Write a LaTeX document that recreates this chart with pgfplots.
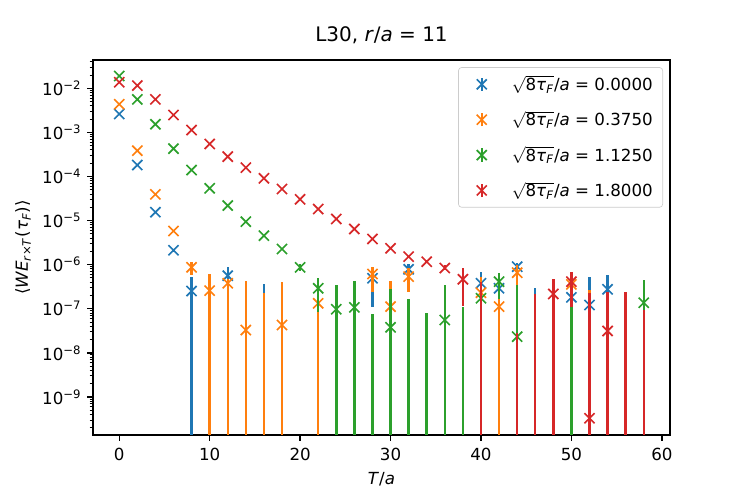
\documentclass[border=0pt]{standalone}
\usepackage{fontspec}
\setmainfont{DejaVu Sans}
\usepackage{pgfplots}
\pgfplotsset{compat=1.18}
\usepackage{pgfplotstable}
\definecolor{c0}{HTML}{1F77B4}
\definecolor{c1}{HTML}{FF7F0E}
\definecolor{c2}{HTML}{2CA02C}
\definecolor{c3}{HTML}{D62728}

% marked points: x, value, upper end, lower end of the error bar
\pgfplotstableread{
x y hi lo
0 2.61e-3 2.65e-3 2.57e-3
2 1.82e-4 1.85e-4 1.79e-4
4 1.55e-5 1.58e-5 1.52e-5
6 2.12e-6 2.30e-6 1.95e-6
8 2.53e-7 5.30e-7 1e-12
12 5.64e-7 9.00e-7 2.20e-7
28 4.92e-7 8.70e-7 1.12e-7
32 7.87e-7 1.04e-6 5.40e-7
40 3.79e-7 6.90e-7 7.00e-8
42 2.92e-7 4.40e-7 1.50e-7
44 9.00e-7 1.11e-6 6.90e-7
50 1.82e-7 3.50e-7 1.50e-8
52 1.22e-7 5.17e-7 1e-12
54 2.77e-7 5.84e-7 1e-12
}\blueM
% points below zero: only the upper part of the error bar is seen
\pgfplotstableread{
x y hi lo
16 1e-13 3.60e-7 1e-13
46 1e-13 2.92e-7 1e-13
}\blueB

\pgfplotstableread{
x y hi lo
0 4.34e-3 4.40e-3 4.28e-3
2 3.85e-4 3.90e-4 3.80e-4
4 3.94e-5 4.00e-5 3.88e-5
6 5.80e-6 6.10e-6 5.50e-6
8 8.73e-7 1.17e-6 5.70e-7
10 2.58e-7 6.15e-7 1e-12
12 3.79e-7 4.67e-7 1e-12
14 3.30e-8 4.35e-7 1e-12
18 4.28e-8 4.12e-7 1e-12
22 1.33e-7 3.00e-7 1e-12
28 6.15e-7 9.00e-7 2.44e-7
30 1.12e-7 4.27e-7 1e-12
32 5.35e-7 8.25e-7 2.44e-7
40 2.32e-7 5.17e-7 1e-12
42 1.12e-7 2.30e-7 1e-12
44 6.58e-7 9.70e-7 3.47e-7
50 3.58e-7 4.50e-7 2.60e-7
}\orangeM
\pgfplotstableread{
x y hi lo
16 1e-13 2.24e-7 1e-13
52 1e-13 2.60e-7 1e-13
}\orangeB

\pgfplotstableread{
x y hi lo
0 1.90e-2 1.92e-2 1.88e-2
2 5.60e-3 5.66e-3 5.54e-3
4 1.53e-3 1.55e-3 1.51e-3
6 4.28e-4 4.33e-4 4.23e-4
8 1.40e-4 1.42e-4 1.38e-4
10 5.40e-5 5.48e-5 5.32e-5
12 2.19e-5 2.23e-5 2.15e-5
14 9.45e-6 9.65e-6 9.25e-6
16 4.55e-6 4.70e-6 4.40e-6
18 2.27e-6 2.40e-6 2.15e-6
20 8.70e-7 1.02e-6 7.20e-7
22 2.92e-7 4.92e-7 8.60e-8
24 9.75e-8 3.47e-7 1e-12
26 1.08e-7 4.35e-7 1e-12
30 3.80e-8 2.77e-7 1e-12
36 5.57e-8 3.47e-7 1e-12
40 1.73e-7 2.20e-7 1.30e-7
42 4.12e-7 6.58e-7 1.66e-7
44 2.33e-8 3.47e-7 1e-12
58 1.37e-7 4.50e-7 1e-12
}\greenM
\pgfplotstableread{
x y hi lo
28 1e-13 7.60e-8 1e-13
32 1e-13 1.67e-7 1e-13
34 1e-13 7.90e-8 1e-13
38 1e-13 1.12e-7 1e-13
50 1e-13 3.00e-7 1e-13
}\greenB

\pgfplotstableread{
x y hi lo
0 1.37e-2 1.39e-2 1.35e-2
2 1.15e-2 1.17e-2 1.13e-2
4 5.60e-3 5.66e-3 5.54e-3
6 2.48e-3 2.51e-3 2.45e-3
8 1.13e-3 1.14e-3 1.12e-3
10 5.46e-4 5.52e-4 5.40e-4
12 2.82e-4 2.86e-4 2.78e-4
14 1.59e-4 1.61e-4 1.57e-4
16 9.10e-5 9.25e-5 8.95e-5
18 5.20e-5 5.30e-5 5.10e-5
20 3.04e-5 3.10e-5 2.98e-5
22 1.83e-5 1.87e-5 1.79e-5
24 1.09e-5 1.12e-5 1.06e-5
26 6.45e-6 6.65e-6 6.25e-6
28 3.83e-6 3.95e-6 3.71e-6
30 2.35e-6 2.44e-6 2.26e-6
32 1.52e-6 1.60e-6 1.44e-6
34 1.17e-6 1.25e-6 1.09e-6
36 8.40e-7 9.60e-7 7.40e-7
38 4.67e-7 8.20e-7 1.14e-7
48 2.17e-7 4.67e-7 1e-12
50 4.12e-7 6.73e-7 1.08e-7
52 3.30e-10 2.24e-7 1e-12
54 3.14e-8 2.44e-7 1e-12
}\redM
\pgfplotstableread{
x y hi lo
40 1e-13 4.12e-7 1e-13
44 1e-13 2.80e-8 1e-13
46 1e-13 2.17e-7 1e-13
56 1e-13 2.44e-7 1e-13
58 1e-13 9.30e-8 1e-13
}\redB

\pgfplotsset{
  withmarks/.style={forget plot, only marks, mark=x, mark size=4.3pt, color=#1,
    mark options={line width=1pt, draw=#1},
    error bars/.cd, y dir=both, y explicit, error mark=none,
    error bar style={draw=#1, line width=1.5pt}},
  legimg/.style={legend image code/.code={
    \path[draw=none, fill=none] (0pt,0pt) -- (26pt,0pt);
    \draw[#1, line width=1.5pt] (10pt,-4pt) -- (10pt,4pt);
    \draw[#1, line width=1pt] (7pt,-3pt) -- (13pt,3pt) (7pt,3pt) -- (13pt,-3pt);}}
}

\begin{document}
\begin{tikzpicture}
\begin{axis}[
  at={(0,0)}, anchor=south west, scale only axis,
  width=346.2pt, height=225pt,
  xmin=-2.9, xmax=60.9,
  ymode=log, ymin=1.375e-10, ymax=4.38e-2,
  xtick={0,10,20,30,40,50,60},
  ytick={1e-9,1e-8,1e-7,1e-6,1e-5,1e-4,1e-3,1e-2},
  yticklabels={10\textsuperscript{−9},10\textsuperscript{−8},10\textsuperscript{−7},10\textsuperscript{−6},10\textsuperscript{−5},10\textsuperscript{−4},10\textsuperscript{−3},10\textsuperscript{−2}},
  minor ytick={2e-10,3e-10,4e-10,5e-10,6e-10,7e-10,8e-10,9e-10,
    2e-9,3e-9,4e-9,5e-9,6e-9,7e-9,8e-9,9e-9,
    2e-8,3e-8,4e-8,5e-8,6e-8,7e-8,8e-8,9e-8,
    2e-7,3e-7,4e-7,5e-7,6e-7,7e-7,8e-7,9e-7,
    2e-6,3e-6,4e-6,5e-6,6e-6,7e-6,8e-6,9e-6,
    2e-5,3e-5,4e-5,5e-5,6e-5,7e-5,8e-5,9e-5,
    2e-4,3e-4,4e-4,5e-4,6e-4,7e-4,8e-4,9e-4,
    2e-3,3e-3,4e-3,5e-3,6e-3,7e-3,8e-3,9e-3,
    2e-2,3e-2,4e-2},
  /pgf/number format/assume math mode=true,
  tick align=outside, xtick pos=bottom, ytick pos=left,
  major tick length=3.4pt, minor tick length=2pt,
  every major tick/.style={black, line width=0.8pt},
  every minor tick/.style={black, line width=0.6pt},
  axis line style={line width=0.8pt},
  tick label style={font=\fontsize{10}{12}\selectfont},
  xticklabel style={yshift=-1pt},
  label style={font=\fontsize{10}{12}\selectfont},
  xlabel={\textit{T}/\textit{a}},
  ylabel={⟨\textit{WE}\textsubscript{\textit{r}×\textit{T}}(\textit{τ}\textsubscript{\textit{F}})⟩},
  title={L30, \textit{r}/\textit{a} = 11},
  title style={font=\fontsize{12}{14}\selectfont},
  legend style={at={(0.988,0.981)}, anchor=north east, draw=black!20,
    rounded corners=2pt, fill=white, fill opacity=0.8, text opacity=1,
    font=\fontsize{10}{12}\selectfont, row sep=7pt, inner xsep=4pt, inner ysep=3pt},
  legend cell align=left,
  clip=true, clip marker paths=true,
]
\addplot[withmarks=c0] table[x=x, y=y, y error plus expr={\thisrow{hi}-\thisrow{y}}, y error minus expr={\thisrow{y}-\thisrow{lo}}] {\blueB};
\addplot[withmarks=c0] table[x=x, y=y, y error plus expr={\thisrow{hi}-\thisrow{y}}, y error minus expr={\thisrow{y}-\thisrow{lo}}] {\blueM};
\addplot[withmarks=c1] table[x=x, y=y, y error plus expr={\thisrow{hi}-\thisrow{y}}, y error minus expr={\thisrow{y}-\thisrow{lo}}] {\orangeB};
\addplot[withmarks=c1] table[x=x, y=y, y error plus expr={\thisrow{hi}-\thisrow{y}}, y error minus expr={\thisrow{y}-\thisrow{lo}}] {\orangeM};
\addplot[withmarks=c2] table[x=x, y=y, y error plus expr={\thisrow{hi}-\thisrow{y}}, y error minus expr={\thisrow{y}-\thisrow{lo}}] {\greenB};
\addplot[withmarks=c2] table[x=x, y=y, y error plus expr={\thisrow{hi}-\thisrow{y}}, y error minus expr={\thisrow{y}-\thisrow{lo}}] {\greenM};
\addplot[withmarks=c3] table[x=x, y=y, y error plus expr={\thisrow{hi}-\thisrow{y}}, y error minus expr={\thisrow{y}-\thisrow{lo}}] {\redB};
\addplot[withmarks=c3] table[x=x, y=y, y error plus expr={\thisrow{hi}-\thisrow{y}}, y error minus expr={\thisrow{y}-\thisrow{lo}}] {\redM};
\addlegendimage{legimg=c0}
\addlegendentry{$\sqrt{\mbox{8\textit{τ}\textsubscript{\textit{F}}}}$/\textit{a} = 0.0000}
\addlegendimage{legimg=c1}
\addlegendentry{$\sqrt{\mbox{8\textit{τ}\textsubscript{\textit{F}}}}$/\textit{a} = 0.3750}
\addlegendimage{legimg=c2}
\addlegendentry{$\sqrt{\mbox{8\textit{τ}\textsubscript{\textit{F}}}}$/\textit{a} = 1.1250}
\addlegendimage{legimg=c3}
\addlegendentry{$\sqrt{\mbox{8\textit{τ}\textsubscript{\textit{F}}}}$/\textit{a} = 1.8000}
\end{axis}
\pgfresetboundingbox
\useasboundingbox (-55.8pt,-37.8pt) rectangle (392.4pt,261pt);
\end{tikzpicture}
\end{document}
